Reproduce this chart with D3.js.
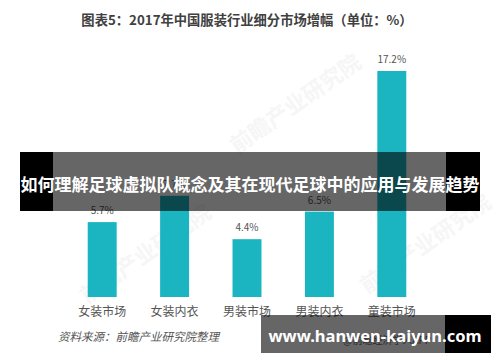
<!DOCTYPE html>
<html>
<head>
<meta charset="utf-8">
<script src="https://cdn.jsdelivr.net/npm/d3@7"></script>
<style>
  body { margin: 0; background: #fff; }
  svg { display: block; font-family: "Noto Sans CJK SC", "Noto Sans", sans-serif; }
</style>
</head>
<body>
<div id="chart"></div>
<script>
const categories = ['女装市场', '女装内衣', '男装市场', '男装内衣', '童装市场'];
const growth = [5.7, 7.7, 4.4, 6.5, 17.2];
const valueLabels = ['5.7%', '7.7%', '4.4%', '6.5%', '17.2%'];

const width = 500, height = 362;

const svg = d3.select('#chart').append('svg')
  .attr('width', width)
  .attr('height', height);

// faint watermarks
const marks = [[150, 260], [300, 110], [430, 250]];
svg.selectAll('.wm')
  .data(marks)
  .join('text')
  .attr('class', 'wm')
  .attr('transform', d => `translate(${d[0]},${d[1]}) rotate(-35)`)
  .attr('text-anchor', 'middle')
  .attr('font-size', 22)
  .attr('font-weight', 'bold')
  .attr('fill', '#f6f6f6')
  .text('前瞻产业研究院');

// title
svg.append('text')
  .attr('x', 247)
  .attr('y', 25)
  .attr('text-anchor', 'middle')
  .attr('font-size', 13.3)
  .attr('font-weight', 'bold')
  .attr('fill', '#404040')
  .text('图表5：2017年中国服装行业细分市场增幅（单位：%）');

const x = d3.scaleBand()
  .domain(categories)
  .range([66, 428])
  .paddingInner(0.6)
  .paddingOuter(0.3);

const y = d3.scaleLinear()
  .domain([0, 17.2])
  .range([297, 71]);

const data = categories.map((c, i) => ({cat: c, v: growth[i], label: valueLabels[i]}));

svg.selectAll('.bar')
  .data(data)
  .join('rect')
  .attr('class', 'bar')
  .attr('x', d => x(d.cat))
  .attr('y', d => y(d.v))
  .attr('width', x.bandwidth())
  .attr('height', d => y(0) - y(d.v))
  .attr('fill', '#1ab5c1');

svg.selectAll('.val')
  .data(data)
  .join('text')
  .attr('class', 'val')
  .attr('x', d => x(d.cat) + x.bandwidth() / 2)
  .attr('y', d => y(d.v) - 8)
  .attr('text-anchor', 'middle')
  .attr('font-size', 10)
  .attr('fill', '#555')
  .text(d => d.label);

const xAxis = svg.append('g')
  .attr('transform', 'translate(0,297)')
  .call(d3.axisBottom(x).tickSize(0).tickPadding(10));
xAxis.select('.domain').remove();
xAxis.selectAll('text')
  .attr('font-size', 12)
  .attr('fill', '#555')
  .attr('font-family', '"Noto Sans CJK SC", sans-serif');

// source
svg.append('text')
  .attr('x', 58)
  .attr('y', 341)
  .attr('font-size', 11.5)
  .attr('font-style', 'italic')
  .attr('fill', '#555')
  .text('资料来源：前瞻产业研究院整理');

svg.append('text')
  .attr('x', 343)
  .attr('y', 344)
  .attr('font-size', 10)
  .attr('fill', '#666')
  .text('@前瞻经济学人APP');

// overlay banner
const banner = svg.append('g');
banner.append('rect').attr('x', 20).attr('y', 152).attr('width', 33).attr('height', 59).attr('fill', '#000');
banner.append('rect').attr('x', 446).attr('y', 152).attr('width', 34).attr('height', 59).attr('fill', '#000');
banner.append('rect').attr('x', 53).attr('y', 152).attr('width', 393).attr('height', 59).attr('fill', '#000').attr('opacity', 0.6);
banner.append('text')
  .attr('x', 250)
  .attr('y', 191)
  .attr('text-anchor', 'middle')
  .attr('font-size', 17)
  .attr('font-weight', 'bold')
  .attr('fill', '#fff')
  .text('如何理解足球虚拟队概念及其在现代足球中的应用与发展趋势');

// url box
const urlBox = svg.append('g');
urlBox.append('rect').attr('x', 261).attr('y', 315).attr('width', 184).attr('height', 38).attr('fill', '#000').attr('opacity', 0.6);
urlBox.append('rect').attr('x', 445).attr('y', 315).attr('width', 46).attr('height', 38).attr('fill', '#000');
urlBox.append('text')
  .attr('x', 375)
  .attr('y', 342)
  .attr('text-anchor', 'middle')
  .attr('font-size', 16.5)
  .attr('font-weight', 'bold')
  .attr('fill', '#fff')
  .attr('font-family', '"Noto Sans", sans-serif')
  .text('www.hanwen-kaiyun.com');
</script>
</body>
</html>
